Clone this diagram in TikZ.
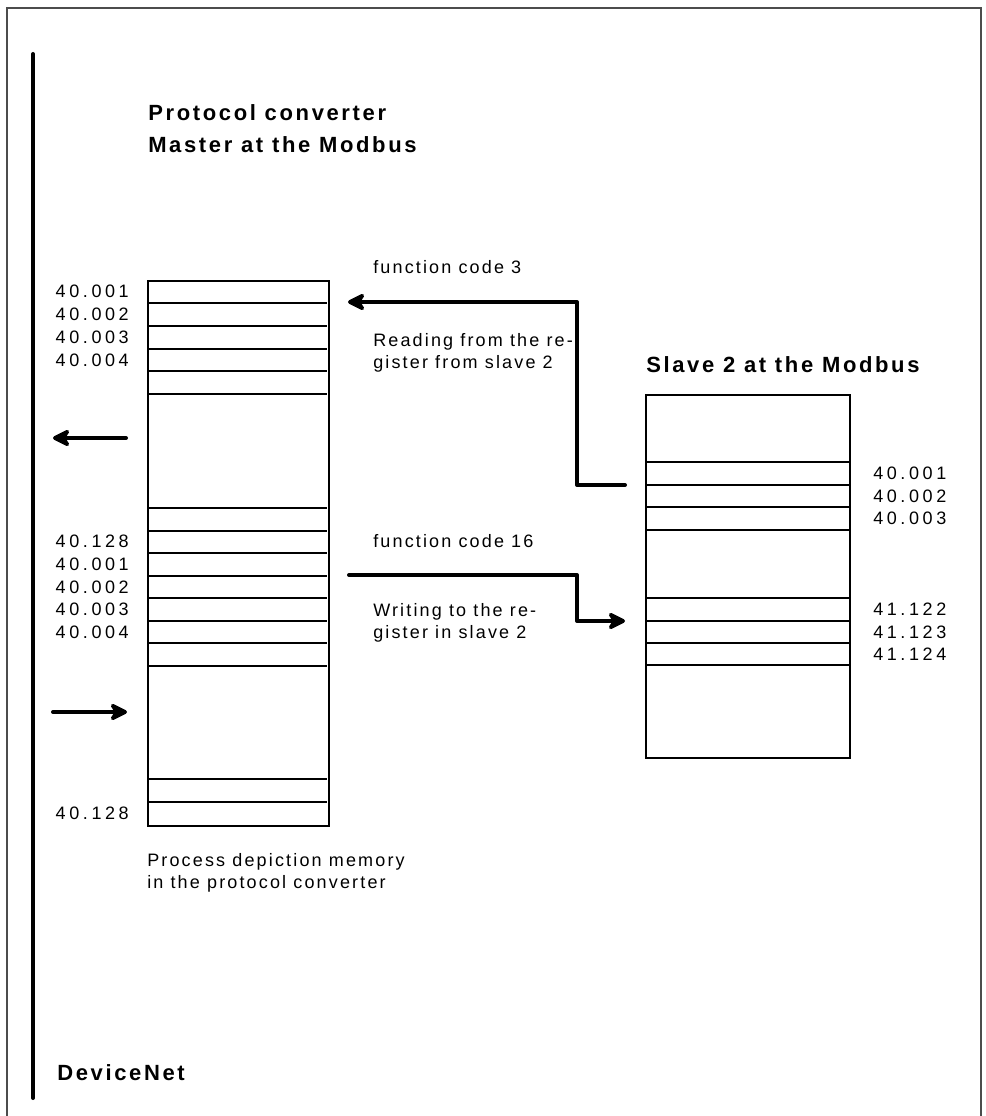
\documentclass[tikz,border=0pt]{standalone}
\usepackage{fontspec}
\setmainfont{Liberation Sans}[LetterSpace=12]
\newfontfamily\regfont{Liberation Sans}[LetterSpace=20]
\usetikzlibrary{arrows.meta}
\begin{document}
\begin{tikzpicture}[x=0.75pt, y=-0.75pt,
  every node/.style={inner sep=0pt, font=\fontsize{13.5}{16.5}\selectfont},
  hd/.style={anchor=base west, font=\fontsize{16.5}{24}\selectfont\bfseries},
  txt/.style={anchor=north west, align=left},
  regno/.style={font=\fontsize{13.5}{16.5}\regfont},
  membox/.style={draw, line width=1.5pt, anchor=north west},
  row/.style={line width=0.8pt},
  flow/.style={line width=3pt, line cap=round, line join=round,
    -{Stealth[length=16pt, width=16pt, inset=5pt, round]}}]
\useasboundingbox (0,0) rectangle (985,1116);
% frame and DeviceNet bus
\draw[gray!60!black, line width=1pt] (7,1130) -- (7,8) -- (981,8) -- (981,1130);
\draw[line width=3pt, line cap=round] (33,54) -- (33,1098);
\node[hd] (bus) at (57,1080) {DeviceNet};

% protocol converter memory
\node[hd] (ttl1) at (148,121) {Protocol converter};
\node[hd] (ttl2) at (148,153) {Master at the Modbus};
\node[membox, minimum width=135.75pt, minimum height=408.75pt] (mst) at (147,280) {};
\foreach \y in {303,326,349,371,394,508,531,576,598,621,643,666,779,802}
  \draw[row] (147,\y) -- (327,\y);
\draw[line width=1.5pt] (147,553) -- (327,553);
\foreach \t/\y [count=\i] in {40.001/291.5,40.002/314.5,40.003/337.5,40.004/360,
    40.128/541.5,40.001/564.5,40.002/587,40.003/609.5,40.004/632,40.128/813.5}
  \node[regno, anchor=east] (ml\i) at (129,\y) {\t};
\node[txt] (mem) at (147,853) {Process depiction memory\\in the protocol converter};

% slave 2
\node[hd] (ttl3) at (646,372) {Slave 2 at the Modbus};
\node[membox, minimum width=153pt, minimum height=272.25pt] (slv) at (645,394) {};
\foreach \y in {462,485,507,530,598,621,643,665}
  \draw[row] (645,\y) -- (849,\y);
\foreach \t/\y [count=\i] in {40.001/473.5,40.002/496,40.003/518.5,
    41.122/609.5,41.123/632,41.124/654}
  \node[regno, anchor=west] (sl\i) at (873,\y) {\t};

% function codes
\node[anchor=base west] (fc3) at (373,273) {function code 3};
\node[txt] (rd) at (373,333) {Reading from the re-\\gister from slave 2};
\node[anchor=base west] (fc16) at (373,547) {function code 16};
\node[txt] (wr) at (373,603) {Writing to the re-\\gister in slave 2};

\coordinate (rdS) at (625,485);
\coordinate (rdE) at (348,302);
\coordinate (wrS) at (349,575);
\coordinate (wrE) at (625,621);
\draw[flow] (rdS) -- ++(-48,0) |- (rdE);
\draw[flow] (wrS) -- ++(228,0) |- (wrE);

% DeviceNet side
\coordinate (outS) at (126,438);
\coordinate (outE) at (53,438);
\coordinate (inS) at (53,712);
\coordinate (inE) at (127,712);
\draw[flow] (outS) -- (outE);
\draw[flow] (inS) -- (inE);
\end{tikzpicture}
\end{document}
